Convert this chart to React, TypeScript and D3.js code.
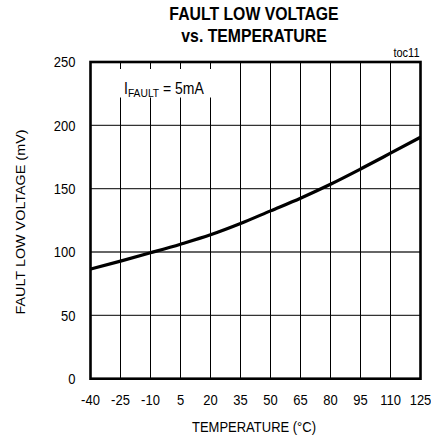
import React from "react";
import * as d3 from "d3";

// Fault low voltage vs. temperature, I_FAULT = 5mA
const temperatures = [-40, -25, -10, 5, 20, 35, 50, 65, 80, 95, 110, 125];
const faultLowVoltage = [86.5, 92.8, 99.4, 106.2, 113.6, 122.5, 132.5, 142.5, 153.5, 165.5, 178.0, 190.6];
const xTicks = [-40, -25, -10, 5, 20, 35, 50, 65, 80, 95, 110, 125];
const yTicks = [0, 50, 100, 150, 200, 250];

const W = 431;
const H = 441;
const plot = { left: 90.5, right: 420.5, top: 62, bottom: 378.7 };
const FONT = "'Liberation Sans', Arial, Helvetica, sans-serif";
const SY = 1.15; // vertical stretch applied to all glyphs

export default function App() {
  const x = d3.scaleLinear().domain([-40, 125]).range([plot.left, plot.right]);
  const y = d3.scaleLinear().domain([0, 250]).range([plot.bottom, plot.top]);

  const pts: [number, number][] = temperatures.map((t, i) => [t, faultLowVoltage[i]]);
  const line = d3
    .line<[number, number]>()
    .x((d) => x(d[0]))
    .y((d) => y(d[1]))
    .curve(d3.curveMonotoneX);

  const cx = (plot.left + plot.right) / 2;

  const st = (tx: number, ty: number) => `translate(${tx},${ty}) scale(1,${SY})`;

  return (
    <svg
      width={W}
      height={H}
      style={{ position: "absolute", left: 0, top: 0, background: "#fff" }}
      fontFamily={FONT}
    >
      <rect x={0} y={0} width={W} height={H} fill="#fff" />

      {/* title */}
      <text transform={st(254, 20)} textAnchor="middle" fontSize={15.8} fontWeight="bold" fill="#000">
        FAULT LOW VOLTAGE
      </text>
      <text transform={st(254, 41.7)} textAnchor="middle" fontSize={15.8} fontWeight="bold" fill="#000">
        vs. TEMPERATURE
      </text>
      <text transform={st(419.5, 56.7)} textAnchor="end" fontSize={11} fill="#000">
        toc11
      </text>

      {/* horizontal grid */}
      {yTicks
        .filter((v) => v !== 0 && v !== 250)
        .map((v) => (
          <line key={`h${v}`} x1={plot.left} x2={plot.right} y1={y(v)} y2={y(v)} stroke="#333" strokeWidth={1.3} />
        ))}
      {/* vertical grid */}
      {xTicks
        .filter((v) => v !== -40 && v !== 125)
        .map((v) => (
          <line key={`v${v}`} x1={x(v)} x2={x(v)} y1={plot.top} y2={plot.bottom} stroke="#000" strokeWidth={1} />
        ))}

      {/* annotation */}
      <rect x={115} y={69} width={100} height={28.5} fill="#fff" />
      <g transform={st(124, 94.3)}>
        <text x={0} y={0} fontSize={14} fill="#000">
          I
          <tspan fontSize={10.3} dy={2.6}>FAULT</tspan>
          <tspan fontSize={14} dy={-2.6}> = 5mA</tspan>
        </text>
      </g>

      {/* curve */}
      <path d={line(pts) || ""} fill="none" stroke="#000" strokeWidth={3.2} strokeLinejoin="round" />

      {/* frame */}
      <rect
        x={plot.left}
        y={plot.top}
        width={plot.right - plot.left}
        height={plot.bottom - plot.top}
        fill="none"
        stroke="#000"
        strokeWidth={2.6}
      />

      {/* y tick labels */}
      {yTicks.map((v) => (
        <text key={`yl${v}`} transform={st(75.5, y(v) + 5.3)} textAnchor="end" fontSize={13} fill="#000">
          {v}
        </text>
      ))}
      {/* x tick labels */}
      {xTicks.map((v) => (
        <text key={`xl${v}`} transform={st(x(v), 405)} textAnchor="middle" fontSize={13} fill="#000">
          {v}
        </text>
      ))}

      {/* axis titles */}
      <text transform={st(cx - 1.5, 432)} textAnchor="middle" fontSize={13} fill="#000">
        TEMPERATURE (°C)
      </text>
      <text
        transform={`translate(24.6,222) rotate(-90) scale(${SY},1)`}
        textAnchor="middle"
        fontSize={12.5}
        fill="#000"
      >
        FAULT LOW VOLTAGE (mV)
      </text>
    </svg>
  );
}
